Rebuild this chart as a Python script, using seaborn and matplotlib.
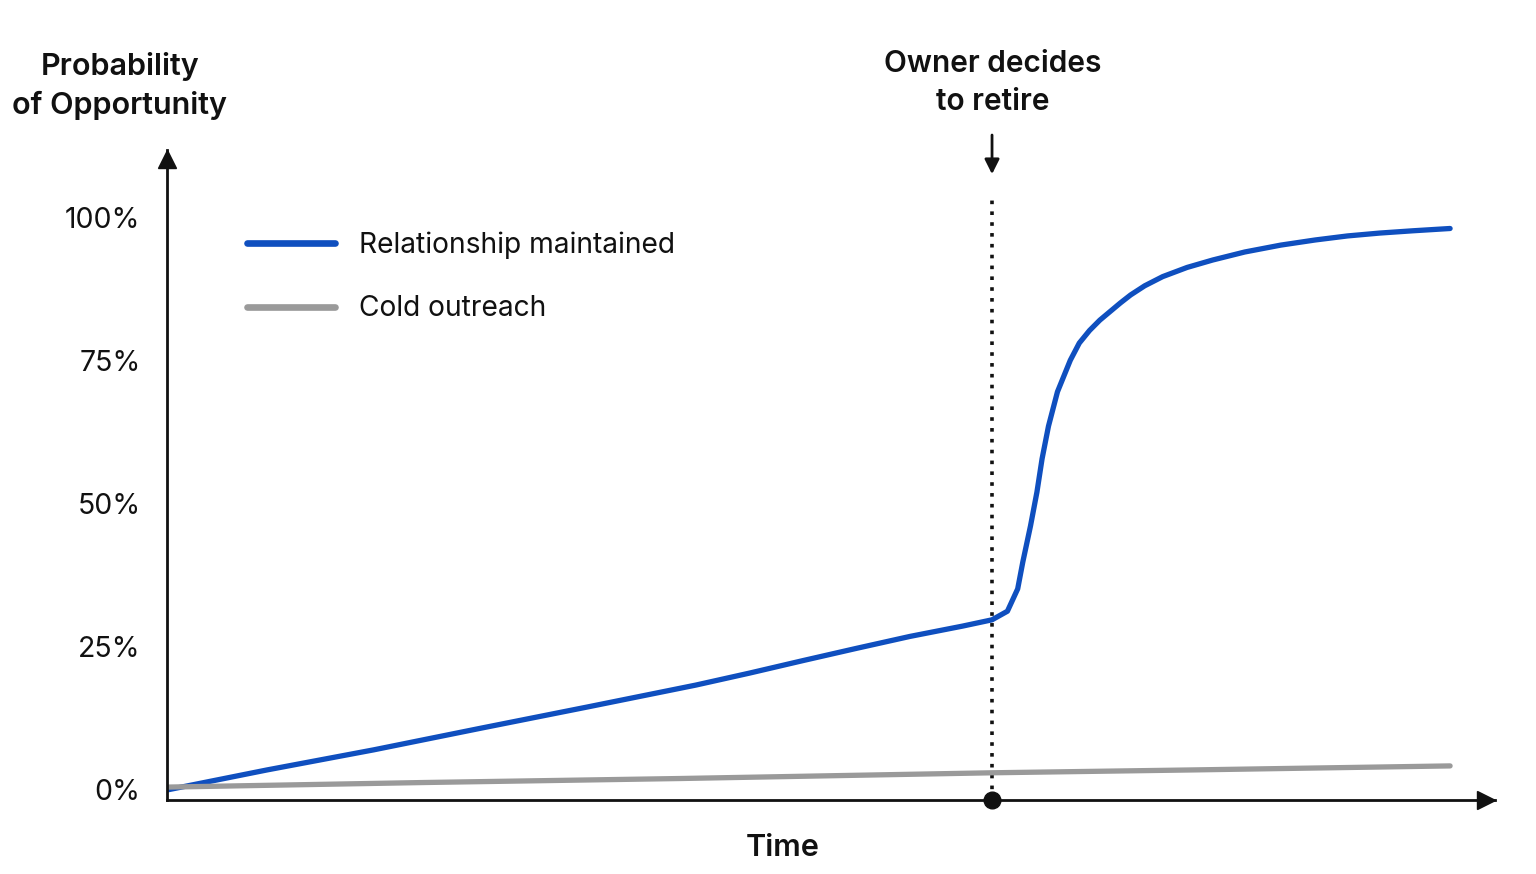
import matplotlib
matplotlib.use("Agg")
import matplotlib.pyplot as plt
import seaborn as sns
import pandas as pd

# ---- data ----
time_blue = [0, 7.8, 16.1, 24.5, 32.8, 41.2, 45.4, 49.6, 53.7, 57.9, 62.0, 64.3,
             65.5, 66.3, 66.7, 67.3, 67.8, 68.2, 68.7, 69.4, 70.4, 71.1, 71.9, 72.7,
             74.3, 75.1, 76.2, 77.6, 79.5, 81.5, 84.0, 86.8, 89.5, 92.0, 94.5, 97.1, 100]
relationship = [0, 3.5, 7.0, 10.8, 14.5, 18.3, 20.4, 22.6, 24.7, 26.8, 28.6, 29.7,
                31.2, 35.1, 39.8, 46.1, 52.0, 57.8, 63.5, 69.5, 75.0, 78.0, 80.2, 82.0,
                85.0, 86.4, 88.0, 89.6, 91.2, 92.5, 93.9, 95.1, 96.0, 96.7, 97.2, 97.6, 98.0]
time_gray = [0, 20, 40, 64.3, 80, 100]
cold = [0.5, 1.3, 2.0, 3.0, 3.5, 4.2]
series_names = ["Relationship maintained", "Cold outreach"]
y_ticks = [0, 25, 50, 75, 100]
y_tick_labels = ["0%", "25%", "50%", "75%", "100%"]
event_time = 64.3
event_label = "Owner decides\nto retire"
y_title = "Probability\nof Opportunity"
x_title = "Time"

df = pd.concat([
    pd.DataFrame({"Time": time_blue, "Prob": relationship, "Series": series_names[0]}),
    pd.DataFrame({"Time": time_gray, "Prob": cold, "Series": series_names[1]}),
])

sns.set_theme(style="white")
plt.rcParams["font.family"] = ["Inter", "DejaVu Sans"]

BLUE = "#0f4fbf"
GRAY = "#9a9a9a"
INK = "#111111"

fig = plt.figure(figsize=(15.36, 8.74), dpi=100)
ax = fig.add_axes([167/1536, 1-800/874, (1495-167)/1536, (800-150)/874])

sns.lineplot(data=df, x="Time", y="Prob", hue="Series", palette=[BLUE, GRAY],
             hue_order=series_names, linewidth=3.8, ax=ax, sort=False,
             solid_capstyle="round", solid_joinstyle="round")

ax.set_xlim(0, 103.5)
ax.set_ylim(-1.75, 111.7)

# axes lines with arrows
for s in ["top", "right"]:
    ax.spines[s].set_visible(False)
for s in ["left", "bottom"]:
    ax.spines[s].set_linewidth(2.0)
    ax.spines[s].set_color(INK)
ax.plot(1 - 9/1328, 0, ">", color=INK, markersize=13, transform=ax.transAxes,
        clip_on=False)
ax.plot(0, 1 - 9/650, "^", color=INK, markersize=13, transform=ax.transAxes,
        clip_on=False)

ax.set_yticks(y_ticks)
ax.set_yticklabels(y_tick_labels)
ax.tick_params(axis="y", length=0, pad=19, labelsize=20.5, labelcolor=INK)
ax.set_xticks([])
ax.set_xlabel("")
ax.set_ylabel("")

# event marker
ax.plot([event_time, event_time], [-1.75, 104.0], linestyle=(0, (1, 2)),
        color=INK, linewidth=2.6, zorder=1)
ax.plot([event_time], [-1.75], "o", color=INK, markersize=12, clip_on=False, zorder=5)
ax.annotate("", xy=(event_time, 107.0), xytext=(event_time, 114.8),
            arrowprops=dict(arrowstyle="-|>", color=INK, lw=2.0, mutation_scale=22),
            annotation_clip=False)

fig.text(993/1536, 1-83/874, event_label, ha="center", va="center",
         fontsize=21.5, fontweight="semibold", color=INK, linespacing=1.5)
fig.text(120/1536, 1-86/874, y_title, ha="center", va="center",
         fontsize=22, fontweight="semibold", color=INK, linespacing=1.46)
fig.text(783/1536, 1-848/874, x_title, ha="center", va="center",
         fontsize=22, fontweight="semibold", color=INK)

leg = ax.legend(loc="upper left", bbox_to_anchor=(236/1536, 1-220/874),
                bbox_transform=fig.transFigure, frameon=False, fontsize=20.3,
                handlelength=3.1, handletextpad=0.85, labelspacing=1.3,
                borderaxespad=0)
for line in leg.get_lines():
    line.set_linewidth(4.8)
    line.set_solid_capstyle("round")
for t in leg.get_texts():
    t.set_color(INK)

fig.savefig("out.png", dpi=100, facecolor="white")
